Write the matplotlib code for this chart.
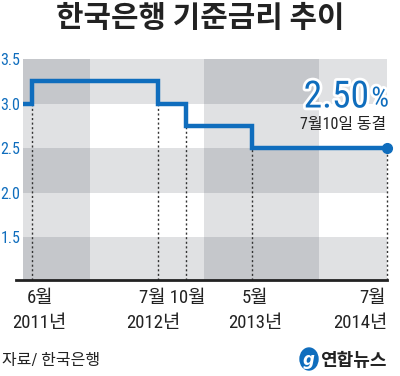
import matplotlib
matplotlib.use('Agg')
import matplotlib.pyplot as plt
import matplotlib.dates as mdates
import matplotlib.patheffects as pe
from matplotlib.patches import Rectangle, Ellipse
import pandas as pd

# ---- data ----
title = '한국은행 기준금리 추이'
start_date = '2011-05-12'
start_rate = 3.00
change_dates = ['2011-06-10', '2012-07-12', '2012-10-11', '2013-05-09', '2014-07-10']
rates = [3.25, 3.00, 2.75, 2.50, 2.50]
ytick_values = [1.5, 2.0, 2.5, 3.0, 3.5]
month_labels = ['6월', '7월 10월', '5월', '7월']
year_labels = ['2011년', '2012년', '2013년', '2014년']
last_value_label = '2.50'
last_note = '7월10일 동결'
source = '자료/ 한국은행'
agency = '연합뉴스'

BLUE = '#0f6dbd'
plt.rcParams['font.family'] = ['Roboto Condensed', 'Noto Sans CJK KR', 'DejaVu Sans']

W, H = 400, 376
fig = plt.figure(figsize=(W / 100, H / 100), dpi=100)
fig.patch.set_facecolor('white')

def fx(px):
    return px / W

def fy(py):
    return 1 - py / H

ax = fig.add_axes([fx(23), fy(280), fx(387) - fx(23), fy(59) - fy(280)])
ax.set_facecolor('white')

x_all = mdates.date2num(pd.to_datetime([start_date] + change_dates))
y_all = [start_rate] + rates

ax.set_xlim(x_all[0], x_all[-1])
ax.set_ylim(1.02, 3.5)

band_col = '#303848'
for y0 in [1.0, 2.0, 3.0]:
    ax.axhspan(y0, y0 + 0.5, color=band_col, alpha=0.15, lw=0, zorder=0)
for c0, c1 in [(0.0, 0.184), (0.497, 0.813)]:
    ax.add_patch(Rectangle((c0, 0), c1 - c0, 1, transform=ax.transAxes,
                           color=band_col, alpha=0.15, lw=0, zorder=0))

prev = start_rate
for d, r in zip(x_all[1:], rates):
    top = min(prev, r)
    ax.plot([d, d], [1.02, top], color='#333333', lw=1.0,
            linestyle=(0, (1.5, 1.8)), zorder=2, clip_on=False)
    prev = r

ax.plot(x_all, y_all, drawstyle='steps-post', color=BLUE, lw=3.2,
        solid_joinstyle='miter', zorder=3)
ax.plot([x_all[-1]], [y_all[-1]], 'o', color=BLUE, ms=7, zorder=4, clip_on=False)

for s in ax.spines.values():
    s.set_visible(False)
ax.set_xticks([])
ax.set_yticks(ytick_values)
ax.set_yticklabels([f'{v:.1f}' for v in ytick_values], color=BLUE, fontsize=11.5)
ax.tick_params(axis='y', length=0, pad=2)

fig.add_artist(plt.Line2D([fx(16), fx(387)], [fy(280), fy(280)], color='#222222',
                          lw=2, transform=fig.transFigure))

fig.text(0.5, fy(18), title, ha='center', va='center', fontsize=21.5,
         fontweight='bold', color='#222222', family=['Noto Sans CJK KR'])

stroke = [pe.withStroke(linewidth=4, foreground='white')]
fig.text(fx(369), fy(97), last_value_label, ha='right', va='center', fontsize=27,
         color=BLUE, path_effects=stroke)
fig.text(fx(389), fy(99), '%', ha='right', va='center', fontsize=20,
         color=BLUE, path_effects=stroke)
fig.text(fx(386), fy(124), last_note, ha='right', va='center', fontsize=11.5,
         color='#222222')

lab_kw = dict(fontsize=13.5, color='#222222', va='center')
month_pos = [(40, 'center'), (172, 'center'), (255, 'center'), (386, 'right')]
year_pos = [(39, 'center'), (153, 'center'), (255, 'center'), (387, 'right')]
for t, (px, ha) in zip(month_labels, month_pos):
    fig.text(fx(px), fy(298), t, ha=ha, **lab_kw)
for t, (px, ha) in zip(year_labels, year_pos):
    fig.text(fx(px), fy(323), t, ha=ha, **lab_kw)

fig.text(fx(2), fy(360), source, ha='left', va='center', fontsize=11.5, color='#222222')
fig.add_artist(Ellipse((fx(309), fy(359)), fx(18), 22 / H, angle=0,
                       transform=fig.transFigure, color=BLUE))
fig.text(fx(309), fy(360), 'g', ha='center', va='center', fontsize=12, color='white',
         style='italic', fontweight='bold', family=['DejaVu Sans'])
fig.text(fx(387), fy(360), agency, ha='right', va='center', fontsize=13,
         fontweight='bold', color='#222222', family=['Noto Sans CJK KR'])

fig.savefig('out.png', dpi=100, facecolor='white')
